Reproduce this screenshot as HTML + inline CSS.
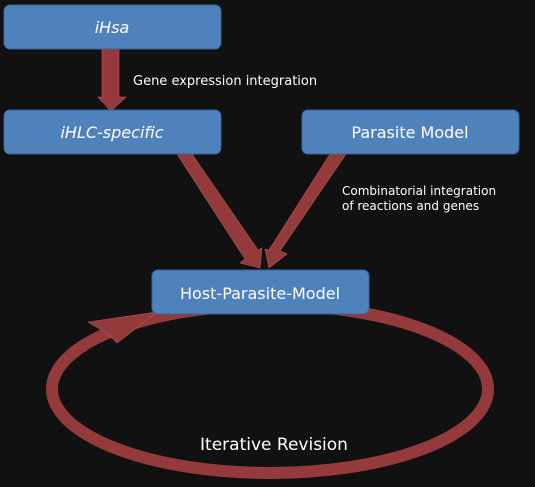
<!DOCTYPE html>
<html><head><style>
body{margin:0;background:#111;width:535px;height:483px;overflow:hidden;font-family:"DejaVu Sans","Liberation Sans",sans-serif}
</style></head><body>
<svg width="535" height="483" viewBox="0 0 535 483" xmlns="http://www.w3.org/2000/svg">
<rect width="535" height="483" fill="#111"/>
<g fill="#953a3a" stroke="#b85a5a" stroke-width="0.6">
<ellipse cx="270" cy="389" rx="218" ry="84" fill="none" stroke="#953a3a" stroke-width="12"/>
<polygon points="88,322 157,312 117,343 107,333"/>
<polygon points="102,49 119,49 119,97 126,97 111,111 98,97 102,97"/>
<polygon points="177,154 192,154 258,250 262,248 260,268 240,263 245,259"/>
<polygon points="330,154 346,154 280,251 287,254 269,268 265,249 269,250"/>
</g>
<g fill="#4f81bd" stroke="#3a6596" stroke-width="1">
<rect x="4" y="5" width="217" height="44" rx="6"/>
<rect x="4" y="110" width="217" height="44" rx="6"/>
<rect x="302" y="110" width="217" height="44" rx="6"/>
<rect x="152" y="270" width="217" height="44" rx="6"/>
</g>
<g fill="#fff" text-anchor="middle" font-size="16">
<text x="112" y="33" font-style="italic">iHsa</text>
<text x="112" y="138" font-style="italic">iHLC-specific</text>
<text x="410" y="138">Parasite Model</text>
<text x="260" y="299">Host-Parasite-Model</text>
<text x="274" y="450" font-size="17">Iterative Revision</text>
</g>
<g fill="#fff" font-size="13">
<text x="133" y="85">Gene expression integration</text>
<text x="342" y="195" font-size="12">Combinatorial integration</text>
<text x="342" y="210" font-size="12">of reactions and genes</text>
</g>
</svg>
</body></html>
